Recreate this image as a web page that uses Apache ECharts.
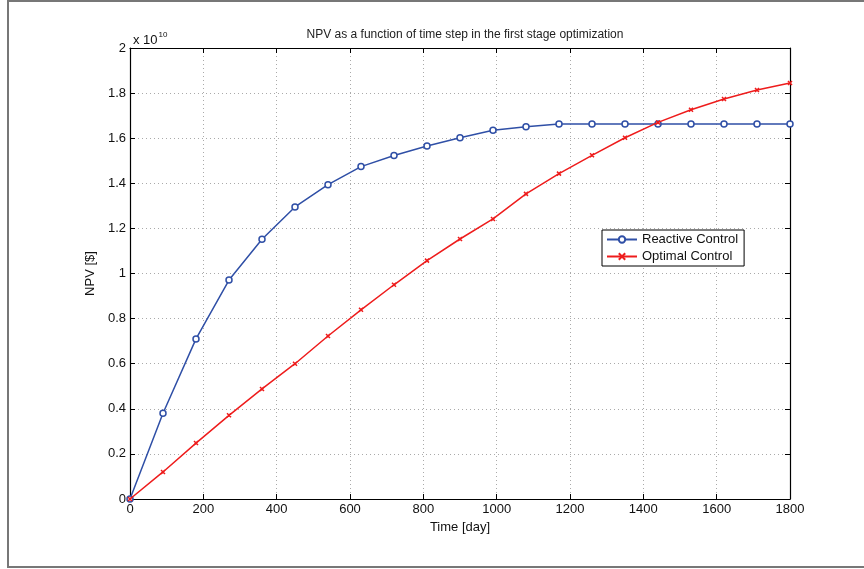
<!DOCTYPE html>
<html><head><meta charset="utf-8">
<script src="https://cdn.jsdelivr.net/npm/echarts@6/dist/echarts.min.js"></script>
<style>html,body{margin:0;padding:0;background:#fff}#c{width:864px;height:569px}</style>
</head><body><div id="c"></div>
<script>
const days = [0,90,180,270,360,450,540,630,720,810,900,990,1080,1170,1260,1350,1440,1530,1620,1710,1800];
const reactive = [0,0.38,0.71,0.971,1.152,1.295,1.394,1.474,1.523,1.565,1.602,1.635,1.651,1.663,1.663,1.663,1.663,1.663,1.663,1.663,1.663];
const optimal = [0,0.12,0.248,0.371,0.488,0.600,0.723,0.839,0.950,1.057,1.153,1.242,1.353,1.443,1.524,1.602,1.670,1.726,1.774,1.814,1.845];
const xTicks = ['0','200','400','600','800','1000','1200','1400','1600','1800'];
const yTicks = ['0','0.2','0.4','0.6','0.8','1','1.2','1.4','1.6','1.8','2'];
const scale = 1e10;

const font = 'Liberation Sans, Arial, sans-serif';
const chart = echarts.init(document.getElementById('c'));
const pair = (xs, ys) => xs.map((x, i) => [x, ys[i] * scale]);
const grid = {left:130, right:74, top:48, bottom:70};
const tickStyle = {show:true, inside:true, length:5, lineStyle:{color:'#000', width:1}};
chart.setOption({
  animation:false,
  backgroundColor:'#fff',
  title:{text:'NPV as a function of time step in the first stage optimization', left:460, top:24, textAlign:'center',
    textStyle:{fontFamily:font, fontSize:12, fontWeight:'normal', color:'#222'}},
  grid:grid,
  legend:{left:602, top:230, orient:'vertical', itemWidth:30, itemHeight:8, itemGap:4,
    padding:[3,6,3,4], backgroundColor:'#fff', borderColor:'#000', borderWidth:1,
    textStyle:{fontFamily:font, fontSize:13, color:'#111'},
    data:['Reactive Control','Optimal Control']},
  xAxis:[{type:'value', min:0, max:1800, interval:200,
    name:'Time [day]', nameLocation:'middle', nameGap:18,
    nameTextStyle:{fontFamily:font, fontSize:13, color:'#111'},
    axisLine:{lineStyle:{color:'#000', width:1.2}},
    axisTick:tickStyle,
    axisLabel:{fontFamily:font, fontSize:13, color:'#111', margin:4,
      formatter:(v)=>xTicks[Math.round(v/200)]},
    splitLine:{show:true, lineStyle:{color:'#aaa', type:[1,3], width:1}}},
   {type:'value', position:'top', min:0, max:1800, interval:200,
    axisLine:{show:true, onZero:false, lineStyle:{color:'#000', width:1.2}},
    axisTick:tickStyle, axisLabel:{show:false}, splitLine:{show:false}}],
  yAxis:[{type:'value', min:0, max:2*scale, interval:0.2*scale,
    name:'NPV [$]', nameLocation:'middle', nameGap:33, nameRotate:90,
    nameTextStyle:{fontFamily:font, fontSize:13, color:'#111'},
    axisLine:{show:true, lineStyle:{color:'#000', width:1.2}},
    axisTick:tickStyle,
    axisLabel:{fontFamily:font, fontSize:13, color:'#111', margin:4,
      formatter:(v)=>yTicks[Math.round(v/scale*5)]},
    splitLine:{show:true, lineStyle:{color:'#aaa', type:[1,3], width:1}}},
   {type:'value', position:'right', min:0, max:2*scale, interval:0.2*scale,
    axisLine:{show:true, onZero:false, lineStyle:{color:'#000', width:1.2}},
    axisTick:tickStyle, axisLabel:{show:false}, splitLine:{show:false}}],
  graphic:[
    {type:'rect', shape:{x:8, y:1, width:870, height:566}, silent:true,
      style:{fill:'none', stroke:'#777', lineWidth:2}, z:-1},
    {type:'text', x:133, y:31, style:{
      text:'{a|x 10}{b|10}', rich:{
        a:{fontFamily:font, fontSize:13, fill:'#111', verticalAlign:'bottom'},
        b:{fontFamily:font, fontSize:8, fill:'#111', verticalAlign:'top', padding:[0,0,8,1]}}}}
  ],
  series:[
    {name:'Reactive Control', type:'line', data:pair(days, reactive),
      symbol:'circle', symbolSize:6, showAllSymbol:true,
      lineStyle:{color:'#2f4fa6', width:1.5},
      itemStyle:{color:'#fff', borderColor:'#2f4fa6', borderWidth:1.5}, z:3},
    {name:'Optimal Control', type:'line', data:pair(days, optimal),
      symbol:'path://M0 0L10 10M10 0L0 10M5 3L5 7M3 5L7 5', symbolSize:4, showAllSymbol:true,
      lineStyle:{color:'#ee1c1c', width:1.5},
      itemStyle:{color:'#ee1c1c', borderColor:'#ee1c1c', borderWidth:1.5}, z:4}
  ]
});
</script></body></html>
